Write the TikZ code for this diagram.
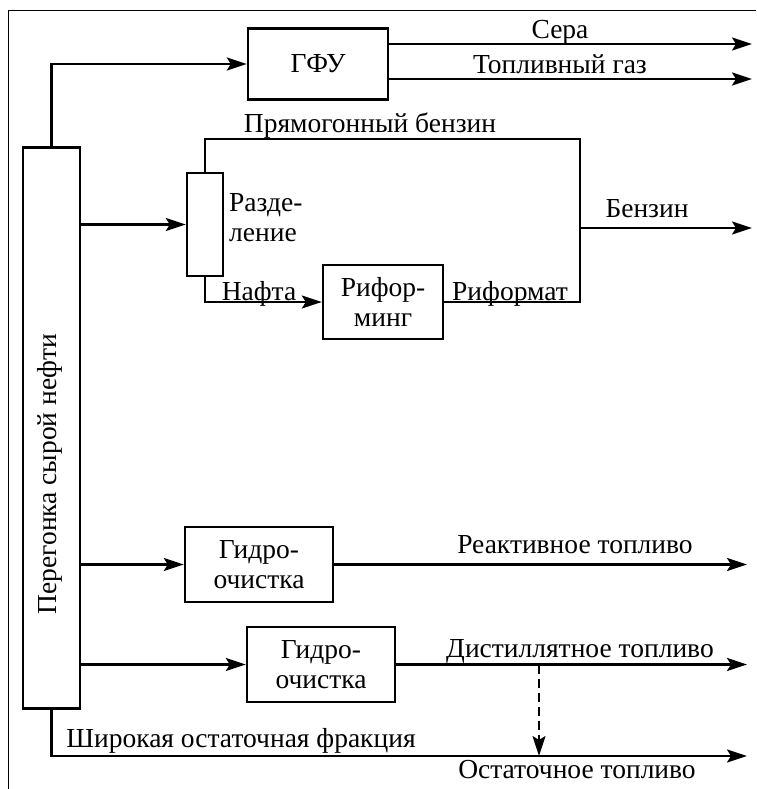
\documentclass[tikz,border=0pt]{standalone}
\usepackage{fontspec}
\setmainfont{Liberation Serif}
\usetikzlibrary{arrows.meta}

\begin{document}
\begin{tikzpicture}[
		x=1pt, y=-1pt,
		font=\fontsize{27.5}{30}\selectfont,
		unit/.style={rectangle, draw, line width=2.4pt, inner sep=0pt, align=center},
		flow/.style={line width=2.4pt, -{Stealth[length=20pt, width=13pt, inset=4pt]}},
		pipe/.style={line width=1.8pt},
		tag/.style={anchor=base, inner sep=0pt},
	]
	\useasboundingbox (0,0) rectangle (756,789);
	\draw[line width=1pt] (8,789) -- (8,11) -- (756,11);

	\node[unit, minimum width=57pt, minimum height=561pt] (crude) at (51.5,428) {};
	\node[rotate=90, inner sep=0pt] (crudelbl) at (50,474) {Перегонка сырой нефти};
	\node[unit, minimum width=140pt, minimum height=71pt] (gfu)    at (318,64)    {ГФУ};
	\node[unit, minimum width=36pt,  minimum height=103pt] (split) at (205,224.5) {};
	\node[unit, minimum width=120pt, minimum height=74pt] (reform) at (383,302)   {Рифор-\\минг};
	\node[unit, minimum width=148pt, minimum height=75pt] (hydroA) at (259,564.5) {Гидро-\\очистка};
	\node[unit, minimum width=148pt, minimum height=75pt] (hydroB) at (321,664.5) {Гидро-\\очистка};

	\coordinate (sulfur)      at (752,44);
	\coordinate (fuelgas)     at (752,79);
	\coordinate (bend)        at (580,139);
	\coordinate (merge)       at (580,302);
	\coordinate (gasoline)    at (580,228);
	\coordinate (gasolineout) at (752,228);
	\coordinate (jet)         at (747,564.5);
	\coordinate (distillate)  at (747,664.5);
	\coordinate (drop)        at (539,664.5);
	\coordinate (dropend)     at (539,756);
	\coordinate (residue)     at (747,756);

	\draw[flow] (crude.north) |- (gfu.west);
	\draw[flow] (gfu.east |- sulfur) -- (sulfur);
	\draw[flow] (gfu.east |- fuelgas) -- (fuelgas);
	\draw[flow] (crude.east |- split.west) -- (split.west);
	\draw[pipe] (split.north) |- (bend) -- (merge) -- (reform.east);
	\draw[flow, pipe] (split.south) |- (reform.west);
	\draw[flow] (gasoline) -- (gasolineout);
	\draw[flow] (crude.east |- hydroA.west) -- (hydroA.west);
	\draw[flow] (hydroA.east) -- (jet);
	\draw[flow] (crude.east |- hydroB.west) -- (hydroB.west);
	\draw[flow] (hydroB.east) -- (distillate);
	\draw[flow, pipe, dash pattern=on 9pt off 5pt] (drop) -- (dropend);
	\draw[flow] (crude.south) |- (residue);

	\node[tag] (sulfurlbl)     at (560,39)  {Сера};
	\node[tag] (fuelgaslbl)    at (560,74)  {Топливный газ};
	\node[tag] (straightlbl)   at (370,132) {Прямогонный бензин};
	\node[tag] (gasolinelbl)   at (647,217) {Бензин};
	\node[anchor=west, align=left, inner sep=0pt] (splitlbl) at (229,218) {Разде-\\ление};
	\node[tag] (naphthalbl)    at (259,300) {Нафта};
	\node[tag] (reformatelbl)  at (510,300) {Риформат};
	\node[tag] (jetlbl)        at (575,553) {Реактивное топливо};
	\node[tag] (distillatelbl) at (580,657) {Дистиллятное топливо};
	\node[tag] (widelbl)       at (241,747) {Широкая остаточная фракция};
	\node[tag] (residuelbl)    at (577,778) {Остаточное топливо};
\end{tikzpicture}
\end{document}
